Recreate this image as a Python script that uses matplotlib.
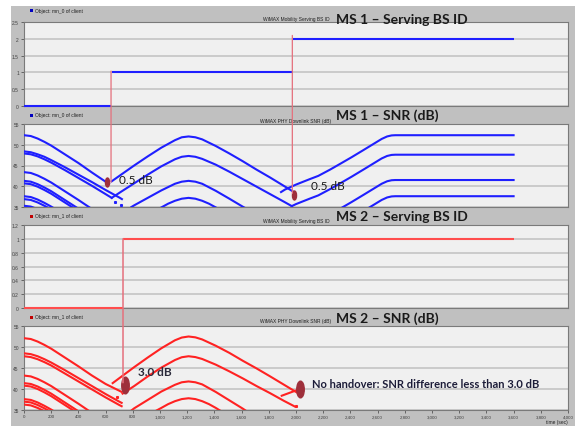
import matplotlib
matplotlib.use("Agg")
import matplotlib.pyplot as plt
from matplotlib.patches import Rectangle, ConnectionPatch
from matplotlib.path import Path
from matplotlib.transforms import Affine2D

# ---- values: time in s, SNR in dB ----
MS1_STEP_START = [0, 645, 1980]
MS1_STEP_END = [640, 1980, 3600]
MS1_STEP_ID = [0, 1, 2]
MS2_STEP_START = [0, 728]
MS2_STEP_END = [728, 3600]
MS2_STEP_ID = [0, 1]

# handover lines: time, top value in BS-ID panel, bottom value in SNR panel
MS1_HO_T = [640, 1973]
MS1_HO_TOP = [1.04, 2.1]
MS1_HO_BOT = [41.0, 38.3]
MS2_HO_T = [728]
MS2_HO_TOP = [1.0]
MS2_HO_BOT = [41.5]

MS1_SNR = [
    # serving BS 0
    [(0, 52.3), (50, 52.1), (100, 51.5), (150, 50.7), (200, 49.8), (300, 47.7),
     (400, 45.6), (500, 43.3), (600, 41.1), (625, 40.6)],
    [(0, 48.4), (50, 48.2), (100, 47.7), (150, 47.1), (200, 46.3), (300, 44.6),
     (400, 42.8), (500, 41.0), (600, 39.1), (700, 37.3), (720, 36.9)],
    [(0, 47.9), (50, 47.7), (100, 47.2), (150, 46.5), (200, 45.7), (300, 43.9),
     (400, 42.0), (500, 40.1), (600, 38.1), (645, 37.2)],
    [(0, 43.4), (50, 43.2), (100, 42.6), (150, 41.8), (200, 40.9), (300, 38.8),
     (400, 36.7), (500, 34.5)],
    [(0, 41.3), (50, 41.1), (100, 40.5), (150, 39.7), (200, 38.8), (300, 36.7),
     (400, 34.6)],
    [(0, 40.7), (50, 40.5), (100, 39.9), (150, 39.1), (200, 38.2), (300, 36.1),
     (400, 34.0)],
    [(0, 37.6), (50, 37.4), (100, 36.8), (150, 36.0), (200, 35.1), (250, 34.1)],
    [(0, 36.9), (50, 36.7), (100, 36.1), (150, 35.3), (200, 34.4)],
    [(0, 35.3), (50, 35.1), (100, 34.5)],
    # serving BS 1
    [(645, 41.2), (710, 42.7), (810, 45.0), (910, 47.2), (1010, 49.3), (1110, 51.1),
     (1160, 51.8), (1210, 52.0), (1260, 51.8), (1310, 51.3), (1410, 49.7),
     (1510, 47.9), (1610, 46.0), (1710, 44.0), (1810, 42.1), (1910, 40.1),
     (1970, 38.9), (1990, 38.5)],
    [(645, 37.2), (710, 38.6), (810, 40.7), (910, 42.8), (1010, 44.8), (1110, 46.5),
     (1160, 47.1), (1210, 47.3), (1260, 47.1), (1310, 46.6), (1410, 45.2),
     (1510, 43.5), (1610, 41.7), (1710, 39.9), (1810, 38.1), (1910, 36.3),
     (1970, 35.2)],
    [(790, 35.0), (810, 35.4), (910, 37.2), (1010, 39.0), (1110, 40.6), (1160, 41.1),
     (1210, 41.3), (1260, 41.1), (1310, 40.6), (1410, 38.9), (1510, 37.0),
     (1610, 35.05), (1650, 34.3)],
    [(1010, 34.9), (1060, 35.8), (1110, 36.5), (1160, 37.0), (1210, 37.2),
     (1260, 37.0), (1310, 36.5), (1360, 35.8), (1410, 34.9)],
    # serving BS 2
    [(1890, 38.6), (1919, 39.2), (2000, 40.4), (2100, 41.7), (2164, 42.5),
     (2250, 44.0), (2330, 45.5), (2409, 47.0), (2500, 48.8), (2580, 50.4),
     (2630, 51.4), (2670, 52.0), (2703, 52.25), (2730, 52.3), (3600, 52.3)],
    [(1968, 35.2), (2000, 35.7), (2100, 37.0), (2164, 37.8), (2250, 39.3),
     (2330, 40.8), (2409, 42.3), (2500, 44.1), (2580, 45.7), (2630, 46.7),
     (2670, 47.3), (2703, 47.55), (2730, 47.6), (3600, 47.6)],
    [(2330, 34.7), (2409, 36.2), (2500, 38.0), (2580, 39.6), (2630, 40.6),
     (2670, 41.2), (2703, 41.45), (2730, 41.5), (3600, 41.5)],
    [(2500, 34.1), (2580, 35.7), (2630, 36.7), (2670, 37.3), (2703, 37.55),
     (2730, 37.6), (3600, 37.6)],
]
MS1_DOTS_T = [670, 711]
MS1_DOTS_V = [36.2, 35.6]

MS2_SNR = [
    # serving BS 0
    [(0, 52.1), (50, 51.9), (100, 51.3), (150, 50.5), (200, 49.6), (300, 47.5),
     (400, 45.4), (500, 43.2), (600, 41.2), (700, 39.6), (718, 39.3)],
    [(0, 48.5), (50, 48.3), (100, 47.8), (150, 47.1), (200, 46.3), (300, 44.5),
     (400, 42.6), (500, 40.7), (600, 38.8), (700, 37.0), (718, 36.7)],
    [(0, 47.8), (50, 47.6), (100, 47.1), (150, 46.4), (200, 45.6), (300, 43.7),
     (400, 41.8), (500, 39.9), (600, 38.0), (700, 36.2), (718, 35.9)],
    [(0, 43.2), (50, 43.0), (100, 42.4), (150, 41.6), (200, 40.7), (300, 38.6),
     (400, 36.5), (500, 34.3)],
    [(0, 41.4), (50, 41.2), (100, 40.6), (150, 39.8), (200, 38.9), (300, 36.8),
     (400, 34.7)],
    [(0, 40.8), (50, 40.6), (100, 40.0), (150, 39.2), (200, 38.3), (300, 36.2),
     (400, 34.1)],
    [(0, 37.6), (50, 37.4), (100, 36.8), (150, 36.0), (200, 35.1), (250, 34.1)],
    [(0, 37.0), (50, 36.8), (100, 36.2), (150, 35.4), (200, 34.5)],
    [(0, 36.3), (50, 36.1), (100, 35.5), (150, 34.7)],
    # serving BS 1
    [(652, 41.4), (710, 42.8), (810, 45.2), (910, 47.5), (1010, 49.7), (1110, 51.6),
     (1160, 52.25), (1210, 52.5), (1260, 52.3), (1310, 51.8), (1410, 50.3),
     (1510, 48.6), (1610, 46.7), (1710, 44.9), (1810, 43.0), (1910, 41.05),
     (2005, 39.2)],
    [(725, 38.9), (810, 40.7), (910, 43.0), (1010, 45.1), (1110, 46.9),
     (1160, 47.56), (1210, 47.8), (1260, 47.6), (1310, 47.15), (1410, 45.8),
     (1510, 44.2), (1610, 42.5), (1710, 40.7), (1810, 39.0), (1910, 37.2),
     (1993, 35.8)],
    [(790, 34.9), (810, 35.4), (910, 37.4), (1010, 39.4), (1110, 41.0), (1160, 41.6),
     (1210, 41.8), (1260, 41.6), (1310, 41.1), (1410, 39.3), (1510, 37.3),
     (1610, 35.3), (1660, 34.2)],
    [(970, 34.8), (1010, 35.5), (1060, 36.4), (1110, 37.1), (1160, 37.6),
     (1210, 37.8), (1260, 37.6), (1310, 37.1), (1360, 36.4), (1410, 35.5),
     (1450, 34.7)],
    # start of the other BS, no handover
    [(1895, 38.4), (2029, 40.0)],
]
MS2_DOTS_T = [681, 2000]
MS2_DOTS_V = [38.0, 36.0]

# annotation blobs (time, dB)
MS1_BLOB_T = [613, 1988]
MS1_BLOB_V = [41.0, 37.9]
MS2_BLOB_T = [743, 2029]
MS2_BLOB_V = [41.0, 40.0]

X_TICKS = list(range(0, 4001, 200))
X_TICK_LABELS = [f"{v:,}" for v in X_TICKS]
ID1_TICKS = [0, 0.5, 1, 1.5, 2, 2.5]
ID1_LABELS = ["0", "0.5", "1", "1.5", "2", "2.5"]
ID2_TICKS = [0, 0.2, 0.4, 0.6, 0.8, 1, 1.2]
ID2_LABELS = ["0", "0.2", "0.4", "0.6", "0.8", "1", "1.2"]
SNR_TICKS = [35, 40, 45, 50, 55]

BLUE = "#1f1fff"
RED = "#ff2222"
RED_STEP = "#ff4d4d"
HO_LINE = "#e5707c"
BLOB = "#9e2f3b"
BG = "#c0c0c0"
FACE = "#f0f0f0"
GRIDC = "#c4c4c4"
TICKC = "#404040"
INK = "#1a1a1a"
NAVY = "#1c1c38"

W, H = 575, 427
fig = plt.figure(figsize=(W / 100, H / 100), dpi=100, facecolor="white")
fig.patches.append(Rectangle((11 / W, 0), 1 - 11 / W, 1 - 7 / H,
                             transform=fig.transFigure, facecolor=BG,
                             edgecolor="none", zorder=-5))


def px_axes(top, bottom):
    return fig.add_axes([24 / W, 1 - bottom / H, 544 / W, (bottom - top) / H])


def style(ax, yticks, ylabels, ylim):
    ax.set_facecolor(FACE)
    ax.set_xlim(0, 4000)
    ax.set_ylim(*ylim)
    ax.set_yticks(yticks)
    ax.set_yticklabels(ylabels)
    ax.grid(axis="y", color=GRIDC, linewidth=1.2)
    ax.set_axisbelow(True)
    for s in ax.spines.values():
        s.set_color("#7a7a7a")
        s.set_linewidth(0.8)
    ax.tick_params(axis="y", length=2.5, width=0.5, color=TICKC, labelsize=3.5,
                   labelcolor=TICKC, pad=1.2)
    ax.tick_params(axis="x", bottom=False, labelbottom=False)
    for lab in ax.get_yticklabels():
        lab.set_family("Liberation Sans")


# blob marker: tall ellipse
BLOB_PATH = Path.unit_circle().transformed(Affine2D().scale(0.45, 1.0))

ax1 = px_axes(23, 107)
ax2 = px_axes(125, 208)
ax3 = px_axes(226, 309)
ax4 = px_axes(327, 411)

style(ax1, ID1_TICKS, ID1_LABELS, (0, 2.5))
style(ax2, SNR_TICKS, [str(v) for v in SNR_TICKS], (35, 55))
style(ax3, ID2_TICKS, ID2_LABELS, (0, 1.2))
style(ax4, SNR_TICKS, [str(v) for v in SNR_TICKS], (35, 55))

ax4.set_xticks(X_TICKS)
ax4.set_xticklabels(X_TICK_LABELS)
ax4.tick_params(axis="x", bottom=True, labelbottom=True, length=2, width=0.5,
                color=TICKC, labelsize=3.2, labelcolor=TICKC, pad=1.2)
for lab in ax4.get_xticklabels():
    lab.set_family("Liberation Sans")

# serving BS id steps
for s, e, v in zip(MS1_STEP_START, MS1_STEP_END, MS1_STEP_ID):
    ax1.plot([s, e], [v, v], color=BLUE, linewidth=1.5, solid_capstyle="butt",
             clip_on=False, zorder=3)
for s, e, v in zip(MS2_STEP_START, MS2_STEP_END, MS2_STEP_ID):
    ax3.plot([s, e], [v, v], color=RED_STEP, linewidth=1.5, solid_capstyle="butt",
             clip_on=False, zorder=3)

# SNR curves
for curve in MS1_SNR:
    t, v = zip(*curve)
    ax2.plot(t, v, color=BLUE, linewidth=1.5, zorder=3)
ax2.plot(MS1_DOTS_T, MS1_DOTS_V, "s", color=BLUE, markersize=1.2, zorder=3)
for curve in MS2_SNR:
    t, v = zip(*curve)
    ax4.plot(t, v, color=RED, linewidth=1.5, zorder=3)
ax4.plot(MS2_DOTS_T, MS2_DOTS_V, "s", color=RED, markersize=1.2, zorder=3)

# handover lines spanning the two panels
for t, top, bot in zip(MS1_HO_T, MS1_HO_TOP, MS1_HO_BOT):
    fig.add_artist(ConnectionPatch((t, top), (t, bot), "data", "data",
                                   axesA=ax1, axesB=ax2, color=HO_LINE,
                                   linewidth=0.9, zorder=5))
for t, top, bot in zip(MS2_HO_T, MS2_HO_TOP, MS2_HO_BOT):
    fig.add_artist(ConnectionPatch((t, top), (t, bot), "data", "data",
                                   axesA=ax3, axesB=ax4, color=HO_LINE,
                                   linewidth=1.1, zorder=5))

ax2.plot(MS1_BLOB_T, MS1_BLOB_V, linestyle="none", marker=BLOB_PATH,
         markersize=6.5, color=BLOB, zorder=6)
ax4.plot(MS2_BLOB_T, MS2_BLOB_V, linestyle="none", marker=BLOB_PATH,
         markersize=12, color=BLOB, zorder=6)

# legends and titles (pixel positions)
def ftext(x, y, s, **kw):
    fig.text(x / W, 1 - y / H, s, **kw)


small = dict(fontsize=3.5, family="Liberation Sans", color="#202020", va="center")
for y, obj, c in [(11, "Object: mn_0 of client", "#0000c0"),
                  (116, "Object: mn_0 of client", "#0000c0"),
                  (217, "Object: mn_1 of client", "#c00000"),
                  (318, "Object: mn_1 of client", "#c00000")]:
    fig.patches.append(Rectangle((29.5 / W, 1 - (y + 1.5) / H), 3 / W, 3 / H,
                                 transform=fig.transFigure, facecolor=c,
                                 edgecolor="none", zorder=2))
    ftext(35, y, obj, **small)

for y, s in [(19.5, "WiMAX Mobility Serving BS ID"),
             (121, "WiMAX PHY Downlink SNR (dB)"),
             (222, "WiMAX Mobility Serving BS ID"),
             (322, "WiMAX PHY Downlink SNR (dB)")]:
    ftext(296, y, s, ha="center", **small)

big = dict(fontsize=10, family="Lato", fontweight="bold", color=INK, va="center")
ftext(336, 19.5, "MS 1 – Serving BS ID", **big)
ftext(336, 115.5, "MS 1 – SNR (dB)", **big)
ftext(336, 217, "MS 2 – Serving BS ID", **big)
ftext(336, 318.5, "MS 2 – SNR (dB)", **big)

ftext(568, 423, "time (sec)", ha="right", **small)

note = dict(fontsize=8.5, family="Lato", color=INK, va="center")
ftext(119, 181, "0.5 dB", **note)
ftext(311, 186, "0.5 dB", **note)
ftext(138, 373, "3.0 dB", fontsize=8.5, family="Lato", fontweight="bold",
      color="#2a2a3a", va="center")
ftext(312, 385, "No handover: SNR difference less than 3.0 dB", fontsize=8,
      family="Lato", fontweight="bold", color=NAVY, va="center")

fig.savefig("out.png", dpi=100)
